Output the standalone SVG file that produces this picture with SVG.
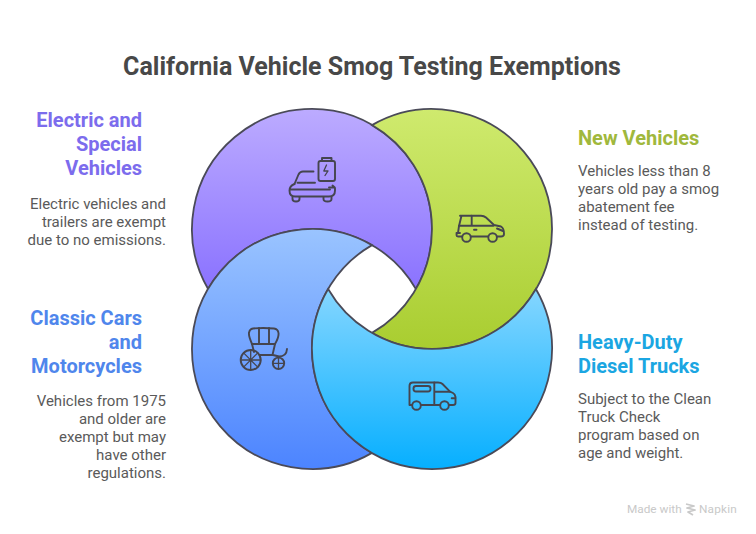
<svg xmlns="http://www.w3.org/2000/svg" width="756" height="534" viewBox="0 0 756 534">
<style>
text{font-family:Roboto,"Liberation Sans",sans-serif}
.title{font-size:25px;font-weight:700;fill:#484848}
.h{font-size:20px;font-weight:700}
.d{font-size:15px;fill:#5a5a5a}
.end{text-anchor:end}
.shape{stroke:#4a4a58;stroke-width:1.800}
.icon{fill:none;stroke:#45454f;stroke-width:1.900;stroke-linecap:round;stroke-linejoin:round}
.foot{font-size:11.800px;fill:#c9c9c9;font-weight:400}
</style>
<defs>
<linearGradient id="gp" gradientUnits="userSpaceOnUse" x1="0" y1="109" x2="0" y2="290"><stop offset="0" stop-color="#bcabff"/><stop offset="1" stop-color="#8a72ff"/></linearGradient>
<linearGradient id="gg" gradientUnits="userSpaceOnUse" x1="0" y1="109" x2="0" y2="349"><stop offset="0" stop-color="#cfea6e"/><stop offset="1" stop-color="#a9cd30"/></linearGradient>
<linearGradient id="gb" gradientUnits="userSpaceOnUse" x1="0" y1="229" x2="0" y2="469"><stop offset="0" stop-color="#9ac4ff"/><stop offset="1" stop-color="#4c84ff"/></linearGradient>
<linearGradient id="gc" gradientUnits="userSpaceOnUse" x1="0" y1="289" x2="0" y2="469"><stop offset="0" stop-color="#85d6ff"/><stop offset="1" stop-color="#06afff"/></linearGradient>
</defs>
<rect width="756" height="534" fill="#ffffff"/>
<text class="title" x="372" y="75" text-anchor="middle">California Vehicle Smog Testing Exemptions</text>

<g id="node-electric">
<path class="shape" fill="url(#gp)" d="M208.100 289A120 120 0 1 1 415.900 289A120 120 0 0 0 208.100 289Z"/>
<g class="icon">
<path d="M313.500 171.500H303Q300 171.500 298.500 174.500L294.500 184"/>
<path d="M297.500 182.700H315"/>
<path d="M294.500 184Q289.500 186 289.500 190.500Q289.500 196.500 295 196.500H329Q335 196.500 335 190.500V188.500M290 189.500H330"/>
<path d="M329 187.500H334.500M332.500 185.500L334.800 187.500"/>
<path d="M292.500 197V199Q292.500 201.500 296 201.500Q299.500 201.500 299.500 199V197M323.500 197V199Q323.500 201.500 327.500 201.500Q331.500 201.500 331.500 199V197"/>
<path d="M320.500 161H333Q335 161 335 163V179Q335 181 333 181H320.500Q318.500 181 318.500 179V163Q318.500 161 320.500 161ZM322 161V158H331.500V161"/>
<path d="M326.500 165L323.800 171H328L325 175.500" stroke-width="1.300"/>
</g>
<text class="h end" fill="#7c6ced" x="142" y="127">Electric and</text>
<text class="h end" fill="#7c6ced" x="142" y="151">Special</text>
<text class="h end" fill="#7c6ced" x="142" y="175">Vehicles</text>
<text class="d end" x="166" y="209">Electric vehicles and</text>
<text class="d end" x="166" y="227">trailers are exempt</text>
<text class="d end" x="166" y="245">due to no emissions.</text>
</g>

<g id="node-new">
<path class="shape" fill="url(#gg)" d="M372 125.100A120 120 0 1 1 372 332.900A120 120 0 0 0 372 125.100Z"/>
<g class="icon">
<path d="M460 215.700H481Q484 215.700 486 217.500L494 225L501 226.500Q504 228 504 234Q504 236.500 501 236.500H497.500M488 236.500H471M462 236.500H458Q456.500 236.500 456.500 235Q456.500 233 458 233L459 226L461.500 215.700"/>
<path d="M459 225.700H493.500M471.700 215.700V225.700M474 229.800H476.500M456.500 233H460M497 228.500L503 231"/>
<circle cx="466.500" cy="237.500" r="4.300"/><circle cx="492.600" cy="237.500" r="4.300"/>
</g>
<text class="h" fill="#a0b83c" x="578" y="145">New Vehicles</text>
<text class="d" x="578" y="176">Vehicles less than 8</text>
<text class="d" x="578" y="194">years old pay a smog</text>
<text class="d" x="578" y="212">abatement fee</text>
<text class="d" x="578" y="230">instead of testing.</text>
</g>

<g id="node-classic">
<path class="shape" fill="url(#gb)" d="M372 245.100A120 120 0 1 0 372 452.900A120 120 0 0 1 372 245.100Z"/>
<g class="icon">
<path d="M252 344Q248.500 336 249 333Q249.500 329 253 328.500Q263 327.500 274 328.500Q278 329 278.500 333Q279 337 275 344Z"/>
<path d="M259 328V344M269 328V344M252 344L254 352M275 344L272.500 355M259.500 355H273L279 356.500Q286.500 356.500 287 349"/>
<circle cx="250.700" cy="360" r="10"/>
<path d="M250.700 350V370M240.700 360H260.700M243.600 352.900L257.800 367.100M257.800 352.900L243.600 367.100" stroke-width="1.300"/>
<circle cx="278.500" cy="363.300" r="5.700"/>
<path d="M278.500 357.600V369M272.800 363.300H284.200" stroke-width="1.300"/>
</g>
<text class="h end" fill="#4f86ec" x="142" y="325">Classic Cars</text>
<text class="h end" fill="#4f86ec" x="142" y="349">and</text>
<text class="h end" fill="#4f86ec" x="142" y="373">Motorcycles</text>
<text class="d end" x="166" y="406">Vehicles from 1975</text>
<text class="d end" x="166" y="424">and older are</text>
<text class="d end" x="166" y="442">exempt but may</text>
<text class="d end" x="166" y="460">have other</text>
<text class="d end" x="166" y="478">regulations.</text>
</g>

<g id="node-diesel">
<path class="shape" fill="url(#gc)" d="M535.900 289A120 120 0 1 1 328.100 289A120 120 0 0 0 535.900 289Z"/>
<g class="icon">
<path d="M411.500 405H409.500V386Q409.500 382.500 413 382.500H438Q441 382.500 442.500 384L450 391.700L453 393Q455 394 455.500 397V403Q455.500 405 453 405H449M439.500 405H421"/>
<rect x="413.500" y="386" width="17" height="5.500" rx="2.500"/>
<path d="M434.300 382.500V405M434.300 391.700H450M451.700 398.300H455.300"/>
<circle cx="416.500" cy="405.500" r="4.300"/><circle cx="444.500" cy="405.500" r="4.300"/>
</g>
<text class="h" fill="#1ba6e2" x="578" y="349">Heavy-Duty</text>
<text class="h" fill="#1ba6e2" x="578" y="373">Diesel Trucks</text>
<text class="d" x="578" y="404">Subject to the Clean</text>
<text class="d" x="578" y="422">Truck Check</text>
<text class="d" x="578" y="440">program based on</text>
<text class="d" x="578" y="458">age and weight.</text>
</g>

<g id="connectors"></g>

<g id="footer">
<text class="foot" x="627" y="513">Made with</text>
<path d="M686 504L694 506L687 508L695 510L688 512L693 515" fill="none" stroke="#c9c9c9" stroke-width="1.800" stroke-linejoin="round"/>
<text class="foot" x="699" y="513" letter-spacing="0.200">Napkin</text>
</g>
</svg>
